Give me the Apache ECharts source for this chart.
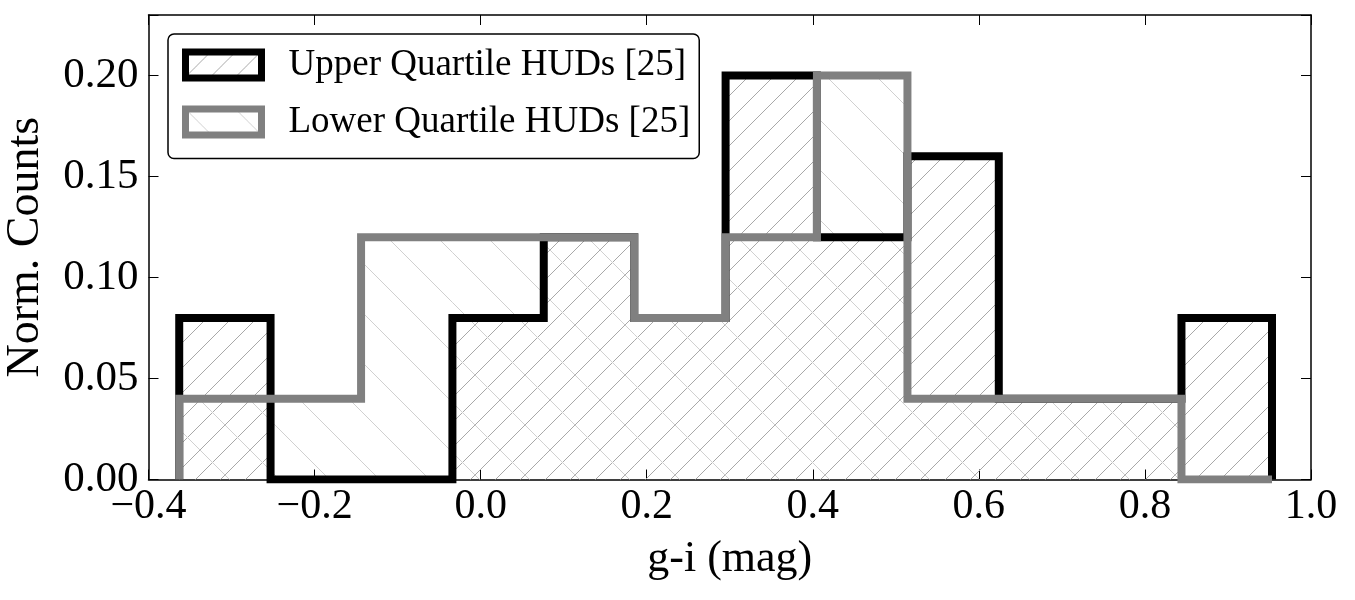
<!DOCTYPE html>
<html>
<head>
<meta charset="utf-8">
<script src="https://cdn.jsdelivr.net/npm/echarts@6/dist/echarts.min.js"></script>
<style>
  html, body { margin: 0; padding: 0; background: #fff; }
  #chart { width: 1355px; height: 600px; }
</style>
</head>
<body>
<div id="chart"></div>
<script>
// histogram bin edges (g-i, mag) and normalised counts per bin
const binEdges = [-0.363, -0.253, -0.144, -0.034, 0.076, 0.185, 0.295, 0.405, 0.514, 0.624, 0.734, 0.844, 0.953];
const upperCounts = [0.08, 0.00, 0.00, 0.08, 0.12, 0.08, 0.20, 0.12, 0.16, 0.04, 0.04, 0.08];
const lowerCounts = [0.04, 0.04, 0.12, 0.12, 0.12, 0.08, 0.12, 0.20, 0.04, 0.04, 0.04, 0.00];
const seriesNames = ['Upper Quartile HUDs [25]', 'Lower Quartile HUDs [25]'];
const xTicks = { min: -0.4, max: 1.0, step: 0.2 };
const yTicks = { min: 0, max: 0.23, step: 0.05 };

const FONT = "'Liberation Serif', 'DejaVu Serif', serif";

// hatch tiles like matplotlib's '/' and '\'
function makeHatch(size, color, forward) {
  const c = document.createElement('canvas');
  c.width = size;
  c.height = size;
  const ctx = c.getContext('2d');
  ctx.strokeStyle = color;
  ctx.lineWidth = 1;
  ctx.beginPath();
  if (forward) {
    ctx.moveTo(-1, size + 1); ctx.lineTo(size + 1, -1);
  } else {
    ctx.moveTo(-1, -1); ctx.lineTo(size + 1, size + 1);
  }
  ctx.stroke();
  return { image: c, repeat: 'repeat' };
}
const hatchUpper = makeHatch(25, '#a8a8a8', true);
const hatchLower = makeHatch(50, '#d0d0d0', false);

function binData(counts) {
  return counts.map((v, i) => [binEdges[i], binEdges[i + 1], v]);
}
// open step outline: up at first edge, across each bin, down at last edge
function stepData(counts) {
  const pts = [[binEdges[0], 0]];
  counts.forEach((v, i) => pts.push([binEdges[i], v]));
  pts.push([binEdges[binEdges.length - 1], 0]);
  return pts;
}

function hatchSeries(counts, pattern) {
  return {
    type: 'custom',
    z: 1,
    silent: true,
    data: binData(counts),
    renderItem: (params, api) => {
      const p0 = api.coord([api.value(0), 0]);
      const p1 = api.coord([api.value(1), api.value(2)]);
      return {
        type: 'rect',
        shape: { x: p0[0], y: p1[1], width: p1[0] - p0[0], height: p0[1] - p1[1] },
        style: { fill: pattern },
      };
    },
  };
}

function stepSeries(name, counts, color, z) {
  return {
    name: name,
    type: 'line',
    step: 'end',
    z: z,
    showSymbol: false,
    silent: true,
    data: stepData(counts),
    itemStyle: { color: color },
    lineStyle: { color: color, width: 8, join: 'miter', cap: 'butt' },
  };
}

const tickLabel = (d) => (v) => v.toFixed(d).replace('-', '\u2212');

const axisCommon = {
  axisLine: { onZero: false, lineStyle: { color: '#000', width: 1.5 } },
  axisTick: { inside: true, length: 10, lineStyle: { color: '#000', width: 1 } },
  splitLine: { show: false },
};

const chart = echarts.init(document.getElementById('chart'));
chart.setOption({
  animation: false,
  backgroundColor: '#fff',
  grid: { left: 148.5, right: 44, top: 15, bottom: 120.5, outerBoundsMode: 'none', containLabel: false },
  legend: {
    left: 168,
    top: 34,
    orient: 'vertical',
    padding: [12.5, 9, 18, 14],
    itemGap: 20,
    itemWidth: 76,
    itemHeight: 26,
    backgroundColor: '#fff',
    borderColor: '#000',
    borderWidth: 1.5,
    borderRadius: 6,
    textStyle: { fontFamily: FONT, fontSize: 37, color: '#000', padding: [0, 0, 0, 22] },
    data: [
      { name: seriesNames[0], icon: 'rect', itemStyle: { color: hatchUpper, borderColor: '#000', borderWidth: 7 } },
      { name: seriesNames[1], icon: 'rect', itemStyle: { color: hatchLower, borderColor: '#808080', borderWidth: 7 } },
    ],
  },
  xAxis: [
    Object.assign({}, axisCommon, {
      type: 'value',
      position: 'bottom',
      min: xTicks.min,
      max: xTicks.max,
      interval: xTicks.step,
      name: 'g-i (mag)',
      nameLocation: 'middle',
      nameGap: 58,
      nameTextStyle: { fontFamily: FONT, fontSize: 44, color: '#000' },
      axisLabel: { formatter: tickLabel(1), fontFamily: FONT, fontSize: 42, color: '#000', margin: 6 },
    }),
    Object.assign({}, axisCommon, {
      type: 'value',
      position: 'top',
      min: xTicks.min,
      max: xTicks.max,
      interval: xTicks.step,
      axisLabel: { show: false },
    }),
  ],
  yAxis: [
    Object.assign({}, axisCommon, {
      type: 'value',
      position: 'left',
      min: yTicks.min,
      max: yTicks.max,
      interval: yTicks.step,
      name: 'Norm. Counts',
      nameLocation: 'middle',
      nameRotate: 90,
      nameGap: 100,
      nameTextStyle: { fontFamily: FONT, fontSize: 46, color: '#000' },
      axisLabel: {
        formatter: (v) => (v > 0.21 ? '' : tickLabel(2)(v)),
        fontFamily: FONT, fontSize: 43, color: '#000', margin: 10,
      },
    }),
    Object.assign({}, axisCommon, {
      type: 'value',
      position: 'right',
      min: yTicks.min,
      max: yTicks.max,
      interval: yTicks.step,
      axisLabel: { show: false },
    }),
  ],
  series: [
    hatchSeries(upperCounts, hatchUpper),
    hatchSeries(lowerCounts, hatchLower),
    stepSeries(seriesNames[0], upperCounts, '#000', 3),
    stepSeries(seriesNames[1], lowerCounts, '#808080', 4),
  ],
});
</script>
</body>
</html>
